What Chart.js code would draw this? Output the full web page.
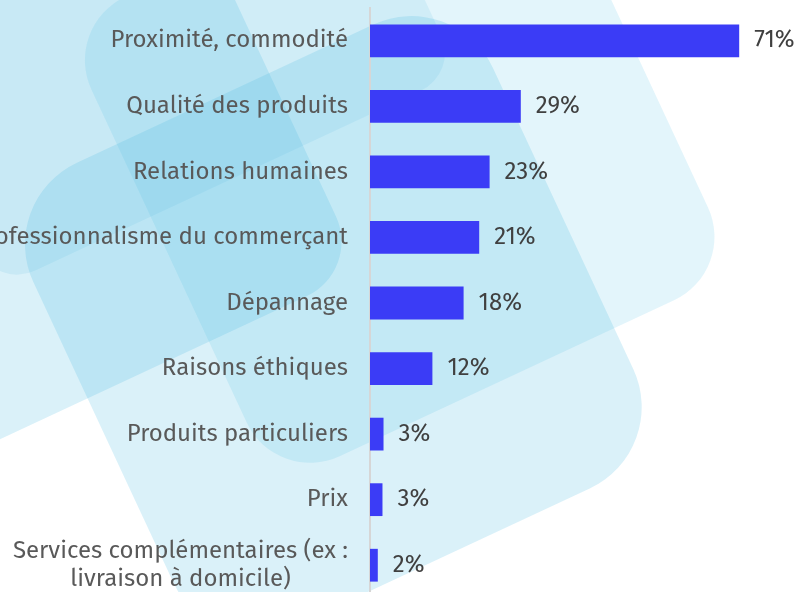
<!DOCTYPE html>
<html>
<head>
<meta charset="utf-8">
<script src="https://cdn.jsdelivr.net/npm/chart.js@4.4.1/dist/chart.umd.min.js"></script>
<style>
  html, body { margin: 0; padding: 0; overflow: hidden; background: #fff; }
  #wrap { position: absolute; left: 0; top: 0; width: 799px; height: 600px; }
</style>
</head>
<body>
<div id="wrap"><canvas id="chart" width="799" height="600"></canvas></div>
<script>
const categories = [
    'Proximité, commodité',
    'Qualité des produits',
    'Relations humaines',
    'Professionnalisme du commerçant',
    'Dépannage',
    'Raisons éthiques',
    'Produits particuliers',
    'Prix',
    ['Services complémentaires (ex :', 'livraison à domicile)']
];
const shares = [71, 29, 23, 21, 18, 12, 2.6, 2.4, 1.5];
const shareLabels = ['71%', '29%', '23%', '21%', '18%', '12%', '3%', '3%', '2%'];

const FONT = '"Fira Sans", "Open Sans", "Noto Sans", sans-serif';
const FONT_SIZE = 24;

// light blue rounded squares behind the chart, in a frame turned by -25 degrees
const decoShapes = [
    { s: -600, t: -400, w: 813, h: 798, r: 60, a: 0.2 },   // top-left block
    { s: -125, t: -400, w: 510, h: 660, r: 42, a: 0.12 },  // band ending in the bulge
    { s: 45, t: 50, w: 509, h: 507, r: 70, a: 0.15 },      // right square
    { s: -89, t: 180, w: 507, h: 512, r: 90, a: 0.2 }      // lower square
];

const backdrop = {
    id: 'backdrop',
    beforeDraw(chart) {
        const ctx = chart.ctx;
        ctx.save();
        ctx.fillStyle = '#ffffff';
        ctx.fillRect(0, 0, chart.width, chart.height);
        ctx.rotate(-25 * Math.PI / 180);
        decoShapes.forEach(d => {
            ctx.fillStyle = `rgba(70, 185, 225, ${d.a})`;
            ctx.beginPath();
            ctx.roundRect(d.s, d.t, d.w, d.h, d.r);
            ctx.fill();
        });
        ctx.restore();
    }
};

const valueLabels = {
    id: 'valueLabels',
    afterDatasetsDraw(chart) {
        const ctx = chart.ctx;
        const meta = chart.getDatasetMeta(0);
        ctx.save();
        ctx.font = FONT_SIZE + 'px ' + FONT;
        ctx.fillStyle = '#404040';
        ctx.textAlign = 'left';
        ctx.textBaseline = 'middle';
        meta.data.forEach((bar, i) => {
            ctx.fillText(shareLabels[i], bar.x + 15, bar.y);
        });
        ctx.restore();
    }
};

// multi-line labels are centred on each other, so pad the short lines on the right
const measureCtx = document.createElement('canvas').getContext('2d');
measureCtx.font = FONT_SIZE + 'px ' + FONT;
function centreLines(label) {
    if (!Array.isArray(label)) return label;
    const widest = Math.max(...label.map(l => measureCtx.measureText(l).width));
    const pad = measureCtx.measureText('\u00a0').width || 6;
    return label.map(l => {
        const n = Math.round((widest - measureCtx.measureText(l).width) / 2 / pad);
        return l + '\u00a0'.repeat(n);
    });
}

new Chart(document.getElementById('chart'), {
    type: 'bar',
    data: {
        labels: categories,
        datasets: [{
            data: shares,
            backgroundColor: '#3b3cf6',
            borderWidth: 0,
            barPercentage: 0.5,
            categoryPercentage: 1
        }]
    },
    options: {
        indexAxis: 'y',
        responsive: false,
        animation: false,
        layout: { padding: { top: 8, bottom: 2, right: 13, left: 0 } },
        plugins: {
            legend: { display: false },
            tooltip: { enabled: false }
        },
        scales: {
            x: { display: false, min: 0, max: 80 },
            y: {
                grid: { display: false, drawTicks: false },
                border: { display: true, color: '#d6d6d6', width: 2 },
                ticks: {
                    color: '#595959',
                    padding: 22,
                    font: { family: FONT, size: FONT_SIZE, lineHeight: 1.2 },
                    callback(value, index) {
                        return centreLines(categories[index]);
                    }
                },
                afterFit(scale) {
                    scale.width = 370;
                    scale.paddingTop = 0;
                    scale.paddingBottom = 0;
                }
            }
        }
    },
    plugins: [backdrop, valueLabels]
});
</script>
</body>
</html>
